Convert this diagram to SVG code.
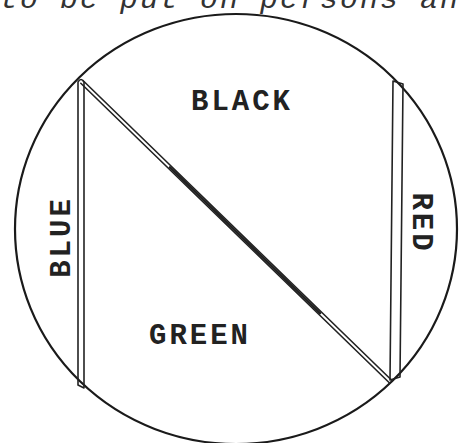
<svg xmlns="http://www.w3.org/2000/svg" width="463" height="443" viewBox="0 0 463 443">
<style>
.lbl{font-family:"Liberation Mono","DejaVu Sans Mono",monospace;font-size:29px;font-weight:bold;letter-spacing:3px;fill:#222;text-anchor:middle}
.top{font-family:"Liberation Mono","DejaVu Sans Mono",monospace;font-size:30px;font-style:italic;letter-spacing:2px;fill:#333}
.rim{fill:none;stroke:#1a1a1a;stroke-width:2.2}
.ln{fill:none;stroke:#222;stroke-width:1.6;stroke-linecap:round}
</style>
<rect width="463" height="443" fill="#fff"/>
<text class="top" x="0" y="8">to be put on persons an</text>
<g id="circle"><ellipse class="rim" cx="236" cy="229" rx="221" ry="215"/></g>
<g id="connectors">
  <path class="ln" d="M78,82 L78,385 M84,82 L84,388 M78,82 Q81,77 84,82 M78,385 L84,388"/>
  <path class="ln" d="M393,81 L390,380 M403,84 L400,377 M393,81 L403,84 M390,380 L400,377"/>
  <path class="ln" d="M83.2,80.7 L392.2,380.7 M80.8,83.3 L389.8,383.3"/>
  <path class="ln" style="stroke-width:2.6" d="M170,167.4 L320,313.1"/>
</g>
<g id="black"><text class="lbl" x="242" y="110">BLACK</text></g>
<g id="green"><text class="lbl" x="200" y="344">GREEN</text></g>
<g id="blue"><text class="lbl" transform="translate(70,237) rotate(-90)">BLUE</text></g>
<g id="red"><text class="lbl" transform="translate(413,223) rotate(90)">RED</text></g>
</svg>
